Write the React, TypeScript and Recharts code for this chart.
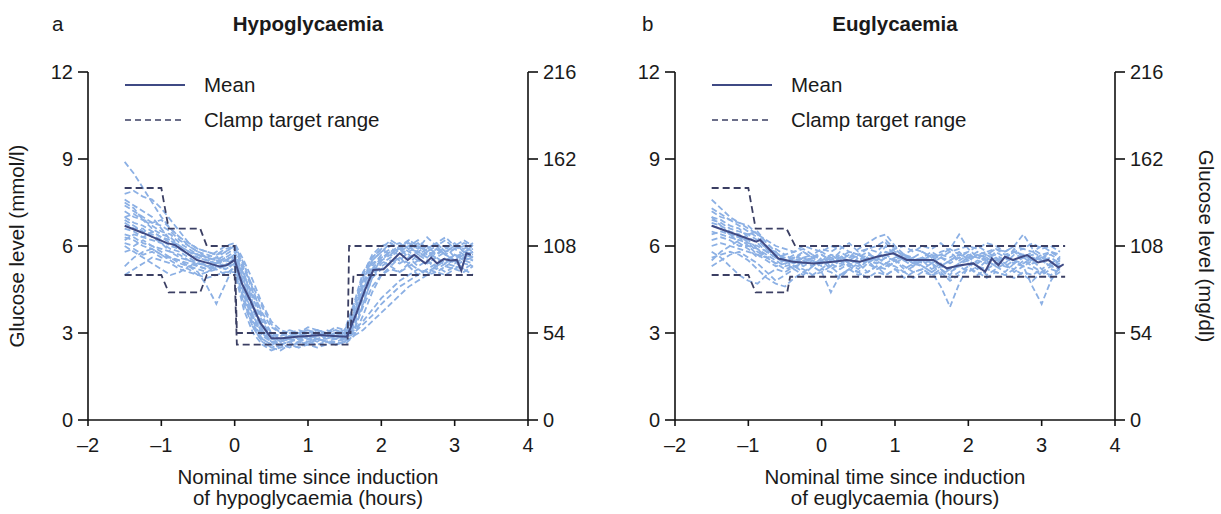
import React from "react";
import { LineChart, Line, XAxis, YAxis } from "recharts";

// nominal sampling times (hours) shared by the individual traces
const traceTimes = [
  -1.5, -1.375, -1.25, -1.125, -1, -0.875, -0.75, -0.625, -0.5, -0.375, -0.25, -0.125, 0,
  0.125, 0.25, 0.375, 0.5, 0.625, 0.75, 0.875, 1, 1.125, 1.25, 1.375, 1.5,
  1.625, 1.75, 1.875, 2, 2.125, 2.25, 2.375, 2.5, 2.625, 2.75, 2.875, 3, 3.125, 3.25,
];

// panel a: individual participants (mmol/l)
const hypoTraces: number[][] = [
  [8.9, 8.5, 8.0, 7.5, 7.0, 6.6, 6.3, 6.0, 5.8, 5.7, 5.6, 5.5, 5.6, 4.8, 3.9, 3.2, 2.9, 2.9, 3.0, 2.9, 3.0, 3.1, 2.9, 3.0, 2.9, 3.6, 4.6, 5.3, 5.7, 5.9, 5.8, 6.0, 5.7, 5.9, 6.1, 5.8, 5.9, 5.7, 5.8],
  [7.6, 7.4, 7.2, 7.0, 6.6, 6.2, 5.9, 5.7, 5.6, 5.5, 5.4, 5.6, 5.8, 5.0, 4.2, 3.4, 2.9, 2.7, 2.8, 2.9, 2.8, 2.9, 3.0, 2.8, 2.9, 3.2, 4.0, 4.9, 5.4, 5.6, 5.9, 5.7, 5.5, 5.8, 5.6, 5.4, 5.7, 5.5, 5.6],
  [6.9, 6.7, 6.5, 6.4, 6.2, 6.0, 5.9, 5.7, 5.5, 5.3, 5.2, 5.3, 5.5, 4.4, 3.6, 3.0, 2.7, 2.6, 2.7, 2.8, 2.7, 2.8, 2.9, 2.8, 2.8, 3.5, 4.8, 5.5, 5.8, 6.0, 6.1, 5.9, 5.8, 5.6, 5.9, 5.7, 5.5, 5.8, 5.9],
  [5.3, 5.6, 5.8, 5.9, 5.7, 5.5, 5.3, 5.2, 5.0, 5.1, 5.2, 5.4, 5.2, 4.0, 3.2, 2.7, 2.5, 2.4, 2.6, 2.7, 2.6, 2.8, 2.7, 2.7, 2.8, 3.3, 4.3, 5.0, 5.3, 5.5, 5.4, 5.6, 5.3, 5.5, 5.2, 5.4, 5.3, 5.5, 5.4],
  [6.4, 6.3, 6.1, 6.0, 5.8, 5.6, 5.4, 5.3, 5.1, 4.6, 4.0, 4.7, 5.4, 4.6, 3.8, 3.2, 2.9, 2.8, 2.9, 3.0, 3.1, 2.9, 3.0, 3.1, 3.0, 3.4, 4.4, 5.1, 5.5, 5.7, 5.5, 5.8, 6.0, 5.7, 5.6, 5.8, 6.0, 5.8, 5.6],
  [7.2, 7.0, 6.9, 6.6, 6.4, 6.3, 6.0, 5.8, 5.7, 5.6, 5.5, 5.7, 5.9, 5.2, 4.6, 3.9, 3.3, 3.0, 2.9, 3.0, 2.8, 2.9, 3.0, 2.9, 3.0, 3.1, 3.4, 3.8, 4.2, 4.5, 4.8, 5.0, 5.2, 5.1, 5.3, 5.5, 5.4, 5.6, 5.5],
  [7.8, 7.9, 7.7, 7.6, 7.3, 6.9, 6.5, 6.1, 5.9, 5.8, 5.7, 5.8, 6.0, 5.4, 4.5, 3.6, 3.0, 2.8, 2.9, 3.0, 3.1, 3.0, 2.9, 3.0, 3.1, 4.0, 5.1, 5.6, 5.9, 6.2, 6.0, 6.1, 5.9, 6.3, 6.0, 6.2, 5.9, 6.1, 6.0],
  [6.1, 6.0, 6.2, 6.0, 5.9, 5.8, 5.6, 5.5, 5.4, 5.4, 5.5, 5.3, 5.6, 4.3, 3.4, 2.8, 2.6, 2.5, 2.6, 2.5, 2.7, 2.6, 2.7, 2.6, 2.7, 3.0, 4.0, 4.9, 5.2, 5.4, 5.6, 5.3, 5.5, 5.4, 5.6, 5.3, 5.5, 5.2, 5.4],
  [6.6, 6.5, 6.3, 6.2, 6.1, 5.9, 5.8, 5.6, 5.4, 5.3, 5.4, 5.5, 5.7, 4.9, 4.0, 3.3, 2.9, 2.8, 2.8, 2.9, 3.0, 2.9, 3.1, 3.0, 2.9, 3.8, 5.0, 5.6, 5.9, 5.7, 6.0, 6.2, 5.8, 6.0, 5.7, 5.9, 6.1, 5.8, 6.0],
  [5.0, 5.2, 5.4, 5.6, 5.5, 5.4, 5.2, 5.1, 5.0, 4.9, 5.0, 5.1, 5.1, 3.8, 3.0, 2.6, 2.4, 2.5, 2.6, 2.5, 2.6, 2.5, 2.6, 2.7, 2.6, 2.9, 3.6, 4.4, 5.0, 5.2, 5.1, 5.3, 5.0, 5.2, 5.1, 5.0, 5.2, 5.1, 5.3],
  [7.0, 6.8, 6.7, 6.5, 6.3, 6.2, 6.0, 5.8, 5.7, 5.6, 5.8, 6.0, 6.1, 5.5, 4.8, 4.0, 3.4, 3.1, 3.0, 2.9, 3.0, 3.1, 3.0, 2.9, 3.0, 3.6, 4.4, 5.2, 5.6, 5.8, 5.7, 5.9, 6.1, 5.8, 5.7, 6.0, 5.6, 5.8, 5.7],
  [6.2, 6.4, 6.3, 6.5, 6.3, 6.1, 5.9, 5.8, 5.6, 5.5, 5.4, 5.6, 5.6, 4.7, 3.8, 3.1, 2.7, 2.6, 2.7, 2.8, 2.9, 2.8, 2.8, 2.9, 2.8, 3.0, 3.3, 3.6, 4.0, 4.3, 4.6, 4.8, 5.0, 5.2, 5.4, 5.5, 5.7, 5.6, 5.8],
  [7.4, 7.2, 7.0, 6.8, 6.7, 6.5, 6.2, 6.0, 5.8, 5.6, 5.5, 5.5, 5.7, 5.0, 4.3, 3.5, 3.0, 2.9, 3.0, 3.1, 3.0, 3.1, 3.0, 3.1, 3.0, 3.9, 5.0, 5.7, 6.0, 6.1, 5.9, 6.0, 6.2, 5.9, 6.1, 5.8, 6.0, 6.2, 6.0],
  [5.8, 5.9, 5.7, 5.8, 5.6, 5.6, 5.5, 5.4, 5.3, 5.2, 5.3, 5.4, 5.3, 4.2, 3.3, 2.8, 2.6, 2.7, 2.8, 2.7, 2.8, 2.7, 2.9, 2.8, 2.7, 3.3, 4.5, 5.2, 5.5, 5.3, 5.6, 5.4, 5.7, 5.5, 5.3, 5.6, 5.4, 5.6, 5.5],
  [6.8, 6.6, 6.6, 6.3, 6.1, 5.8, 5.7, 5.5, 5.3, 5.2, 5.4, 5.5, 5.4, 4.5, 3.5, 2.9, 2.7, 2.7, 2.8, 2.7, 2.9, 2.8, 2.7, 2.8, 2.9, 3.5, 4.7, 5.4, 5.6, 5.8, 5.9, 5.6, 5.8, 5.6, 5.9, 5.7, 5.5, 5.7, 5.6],
  [7.5, 7.3, 6.9, 6.7, 6.5, 6.4, 6.1, 5.9, 5.7, 5.5, 5.6, 5.8, 6.0, 5.1, 4.0, 3.1, 2.8, 2.7, 2.9, 2.8, 2.9, 3.0, 2.8, 2.9, 2.8, 3.3, 4.2, 5.0, 5.5, 5.8, 6.0, 5.8, 5.6, 5.8, 6.0, 5.7, 5.9, 6.0, 5.8],
  [6.0, 5.8, 5.6, 5.4, 5.2, 5.0, 5.1, 5.3, 5.4, 5.3, 5.2, 5.0, 5.3, 4.1, 3.2, 2.7, 2.5, 2.6, 2.5, 2.7, 2.6, 2.8, 2.7, 2.6, 2.7, 3.1, 3.9, 4.6, 5.0, 5.3, 5.1, 5.4, 5.2, 5.0, 5.3, 5.1, 5.3, 5.2, 5.0],
  [7.0, 7.1, 6.9, 6.8, 6.9, 6.6, 6.3, 6.1, 5.9, 5.8, 5.7, 5.9, 6.0, 5.3, 4.4, 3.7, 3.2, 3.0, 3.1, 3.0, 3.2, 3.1, 3.0, 3.2, 3.1, 3.7, 4.9, 5.5, 5.8, 6.1, 5.9, 6.2, 6.0, 5.8, 6.1, 6.3, 6.0, 5.9, 6.1],
  [6.3, 6.2, 6.0, 5.9, 5.7, 5.6, 5.5, 5.3, 5.2, 5.1, 5.3, 5.2, 5.4, 4.5, 3.6, 3.0, 2.7, 2.6, 2.7, 2.6, 2.7, 2.8, 2.7, 2.6, 2.7, 2.9, 3.1, 3.4, 3.7, 4.0, 4.3, 4.6, 4.8, 5.0, 5.1, 5.3, 5.2, 5.4, 5.3],
];

// panel b: individual participants (mmol/l)
const eugTraces: number[][] = [
  [7.6, 7.3, 7.0, 6.8, 6.7, 6.4, 6.0, 5.7, 5.6, 5.5, 5.8, 5.6, 5.4, 5.7, 5.5, 5.3, 5.6, 5.8, 5.5, 5.7, 5.9, 5.6, 5.4, 5.5, 5.7, 5.3, 5.5, 5.6, 5.8, 5.4, 5.6, 5.7, 5.5, 5.9, 5.6, 5.4, 5.5, 5.3, 5.5],
  [7.2, 7.0, 6.9, 6.7, 6.5, 6.3, 5.9, 5.8, 5.5, 5.3, 5.4, 5.6, 5.2, 5.5, 5.7, 5.4, 5.2, 5.5, 5.6, 6.0, 5.7, 5.5, 5.3, 5.6, 5.4, 5.2, 5.0, 5.4, 5.6, 5.7, 5.5, 5.3, 5.6, 5.8, 5.6, 5.5, 5.7, 5.4, 5.6],
  [5.3, 5.5, 5.7, 5.8, 5.6, 5.4, 5.1, 4.8, 5.0, 5.2, 5.0, 5.3, 5.1, 4.4, 5.0, 5.2, 5.4, 5.1, 5.3, 5.2, 5.5, 5.3, 5.1, 5.2, 5.4, 5.0, 5.2, 5.3, 5.1, 5.3, 5.0, 5.2, 5.4, 5.1, 5.3, 5.2, 5.0, 5.2, 5.1],
  [6.9, 6.8, 6.6, 6.5, 6.4, 6.2, 5.9, 5.6, 5.5, 5.6, 5.4, 5.6, 5.7, 5.5, 5.8, 5.6, 5.9, 6.1, 6.3, 6.4, 6.0, 5.7, 5.5, 5.6, 5.4, 5.6, 5.8, 5.5, 5.7, 5.6, 5.5, 5.8, 5.6, 5.4, 5.6, 5.7, 5.5, 5.6, 5.4],
  [6.5, 6.4, 6.3, 6.2, 6.1, 6.0, 5.8, 5.6, 5.4, 5.5, 5.3, 5.5, 5.4, 5.6, 5.3, 5.5, 5.4, 5.6, 5.5, 5.3, 5.4, 5.6, 5.5, 5.3, 5.1, 4.6, 3.9, 4.7, 5.3, 5.5, 5.4, 5.6, 5.3, 5.5, 5.4, 5.6, 5.5, 5.3, 5.4],
  [7.0, 6.9, 6.7, 6.6, 6.3, 6.1, 5.8, 5.6, 5.7, 5.5, 5.6, 5.4, 5.5, 5.7, 5.6, 5.4, 5.5, 5.7, 5.6, 5.8, 5.7, 5.5, 5.6, 5.4, 5.5, 5.7, 5.6, 5.8, 5.5, 5.7, 5.6, 5.4, 5.6, 5.5, 5.3, 4.6, 4.0, 4.8, 5.3],
  [6.2, 6.3, 6.2, 6.0, 6.0, 5.9, 5.7, 5.5, 5.3, 5.4, 5.6, 5.5, 5.3, 5.5, 5.4, 5.6, 5.7, 5.5, 5.4, 5.6, 5.5, 5.7, 5.6, 5.8, 5.6, 5.7, 5.9, 6.4, 5.9, 5.6, 5.7, 5.5, 5.6, 5.8, 5.7, 5.5, 5.6, 5.8, 5.6],
  [6.7, 6.6, 6.4, 6.3, 6.2, 5.9, 5.6, 5.4, 5.5, 5.7, 5.5, 5.6, 5.8, 5.6, 5.5, 5.7, 5.6, 5.4, 5.6, 5.7, 5.5, 5.6, 5.4, 5.5, 5.7, 5.6, 5.5, 5.7, 5.6, 5.8, 5.7, 5.9, 5.8, 6.0, 6.4, 5.9, 5.7, 5.8, 5.6],
  [5.6, 5.7, 5.8, 5.7, 5.5, 5.2, 4.9, 4.7, 4.6, 4.9, 5.1, 5.0, 5.2, 5.1, 4.9, 5.2, 5.0, 5.1, 5.3, 5.0, 5.2, 5.1, 4.9, 5.1, 5.0, 5.2, 4.9, 5.1, 5.3, 5.0, 5.2, 5.1, 5.0, 4.9, 5.1, 5.0, 5.2, 4.9, 5.1],
  [7.3, 7.1, 6.9, 6.8, 6.6, 6.4, 6.2, 6.0, 5.9, 5.8, 6.0, 5.9, 5.8, 6.0, 5.9, 6.1, 5.8, 5.9, 6.0, 6.2, 5.9, 6.0, 5.8, 6.0, 5.9, 6.1, 5.8, 5.9, 6.0, 5.9, 6.1, 6.0, 5.8, 6.0, 5.9, 6.1, 5.9, 6.0, 5.8],
  [6.0, 6.1, 6.0, 5.9, 5.8, 5.7, 5.6, 5.4, 5.2, 5.3, 5.1, 5.3, 5.5, 5.2, 5.4, 5.3, 5.1, 5.4, 5.2, 5.3, 5.5, 5.2, 5.4, 5.3, 5.1, 5.3, 5.2, 5.4, 5.5, 5.3, 5.2, 5.4, 5.3, 5.2, 5.5, 5.3, 5.1, 5.3, 5.2],
  [5.5, 5.8, 6.0, 6.2, 6.4, 6.5, 6.1, 5.8, 5.5, 5.6, 5.8, 5.6, 5.7, 5.5, 5.6, 5.8, 5.7, 5.5, 5.6, 5.4, 5.6, 5.7, 5.5, 5.6, 5.8, 5.6, 5.4, 5.6, 5.5, 5.7, 5.8, 5.6, 5.4, 5.7, 5.6, 5.8, 5.6, 5.7, 5.5],
  [6.8, 6.7, 6.5, 6.4, 6.1, 5.8, 5.6, 5.7, 5.5, 5.4, 5.6, 5.7, 5.5, 5.3, 5.6, 5.5, 5.7, 5.6, 5.4, 5.6, 5.5, 5.7, 5.4, 5.6, 5.5, 5.3, 5.5, 5.7, 5.6, 5.4, 5.7, 5.5, 5.6, 5.4, 5.7, 5.5, 5.6, 5.4, 5.6],
  [6.4, 6.5, 6.4, 6.3, 6.0, 5.7, 5.5, 5.3, 5.4, 5.2, 5.5, 5.3, 5.6, 5.4, 5.2, 5.4, 5.3, 5.5, 5.2, 5.4, 5.3, 5.1, 5.3, 5.5, 5.2, 5.4, 5.1, 5.3, 5.4, 5.2, 5.5, 5.3, 5.1, 5.4, 5.3, 5.5, 5.2, 5.4, 5.3],
  [7.0, 6.7, 6.4, 6.1, 5.9, 5.6, 5.8, 5.9, 5.7, 5.8, 5.9, 5.7, 5.9, 5.8, 6.0, 5.8, 5.7, 5.9, 5.8, 6.1, 5.8, 5.7, 5.9, 5.8, 5.6, 5.8, 5.9, 5.7, 5.8, 6.0, 5.8, 5.9, 5.7, 5.8, 5.9, 5.8, 6.0, 5.8, 5.7],
  [5.8, 5.6, 5.3, 5.0, 4.8, 4.7, 5.0, 5.2, 5.1, 5.3, 5.2, 5.0, 5.1, 5.3, 5.0, 5.2, 5.1, 4.9, 5.1, 5.0, 5.2, 4.9, 5.1, 5.2, 5.0, 5.1, 4.8, 5.0, 5.2, 5.1, 4.9, 5.1, 5.0, 5.2, 5.0, 4.8, 5.1, 5.0, 5.2],
];

// mean curves
const hypoMeanTimes = [-1.5, -1.25, -1.02, -0.92, -0.81, -0.65, -0.52, -0.35, -0.2, -0.1, 0, 0.1, 0.21, 0.35, 0.5, 0.65, 0.84, 1.0, 1.16, 1.35, 1.53, 1.66, 1.78, 1.89, 2.03, 2.15, 2.25, 2.36, 2.45, 2.52, 2.6, 2.68, 2.76, 2.85, 2.95, 3.03, 3.09, 3.16, 3.22];
const hypoMean = [6.7, 6.45, 6.2, 6.1, 6.03, 5.75, 5.52, 5.4, 5.29, 5.35, 5.52, 4.7, 4.14, 3.35, 2.82, 2.82, 2.87, 2.9, 2.93, 2.9, 2.87, 3.68, 4.5, 5.17, 5.2, 5.5, 5.75, 5.52, 5.7, 5.55, 5.4, 5.6, 5.4, 5.55, 5.5, 5.52, 5.15, 5.75, 5.7];
const eugMeanTimes = [-1.5, -0.89, -0.84, -0.59, -0.39, -0.11, 0.16, 0.34, 0.52, 0.75, 0.98, 1.16, 1.52, 1.71, 1.89, 2.07, 2.23, 2.32, 2.41, 2.5, 2.61, 2.8, 2.95, 3.09, 3.23, 3.3];
const eugMean = [6.7, 6.15, 6.21, 5.57, 5.46, 5.4, 5.46, 5.52, 5.46, 5.63, 5.75, 5.52, 5.52, 5.23, 5.34, 5.4, 5.11, 5.57, 5.34, 5.63, 5.52, 5.69, 5.43, 5.52, 5.26, 5.37];

// clamp target range boundaries
const hypoClampUpperT = [-1.5, -1.0, -0.9, -0.47, -0.38, 0, 0.03, 1.58, 1.62, 3.25];
const hypoClampUpper = [8, 8, 6.6, 6.6, 6.0, 6.0, 3.0, 3.0, 5.0, 5.0];
const hypoClampLowerT = [-1.5, -1.0, -0.9, -0.47, -0.38, 0, 0.03, 1.54, 1.56, 3.25];
const hypoClampLower = [5, 5, 4.4, 4.4, 5.0, 5.0, 2.6, 2.6, 6.0, 6.0];
const eugClampUpperT = [-1.5, -1.0, -0.9, -0.48, -0.36, 3.32];
const eugClampUpper = [8, 8, 6.6, 6.6, 6.0, 6.0];
const eugClampLowerT = [-1.5, -1.0, -0.9, -0.47, -0.43, 3.32];
const eugClampLower = [5, 5, 4.4, 4.4, 4.94, 4.94];

const xTicks = [-2, -1, 0, 1, 2, 3, 4];
const mmolTicks = [0, 3, 6, 9, 12];
const mgTicks = [0, 54, 108, 162, 216];
const MG_PER_MMOL = 18;

const FONT = '"Liberation Sans", Arial, sans-serif';
const TEXT = "#1a1a1a";
const TRACE = "#8cb0e4";
const MEAN = "#3f4a84";
const CLAMP = "#3b3f63";

const toPoints = (ts: number[], vs: number[]) => ts.map((t, i) => ({ t, v: vs[i] }));
const fmtX = (v: number) => (v < 0 ? `\u2013${Math.abs(v)}` : `${v}`);

type PanelProps = {
  left: number;
  traces: number[][];
  meanT: number[];
  meanV: number[];
  clamps: { t: number[]; v: number[] }[];
};

function Panel({ left, traces, meanT, meanV, clamps }: PanelProps) {
  const tick = { fontSize: 20, fill: TEXT, fontFamily: FONT };
  const axisStyle = { stroke: "#111", strokeWidth: 1.6 };
  return (
    <div style={{ position: "absolute", left, top: 0 }}>
      <LineChart width={610} height={514} margin={{ top: 72, right: 37, bottom: 64, left: 48 }}>
        <XAxis
          type="number"
          dataKey="t"
          domain={[-2, 4]}
          ticks={xTicks}
          tickFormatter={fmtX}
          allowDataOverflow
          height={30}
          tickSize={6}
          tickMargin={12}
          tick={tick}
          axisLine={axisStyle}
          tickLine={axisStyle}
        />
        <YAxis
          yAxisId="mmol"
          type="number"
          domain={[0, 12]}
          ticks={mmolTicks}
          width={40}
          tickSize={10}
          tickMargin={5}
          tick={tick}
          axisLine={axisStyle}
          tickLine={axisStyle}
        />
        <YAxis
          yAxisId="mg"
          orientation="right"
          type="number"
          domain={[0, 216]}
          ticks={mgTicks}
          width={45}
          tickSize={10}
          tickMargin={5}
          tick={tick}
          axisLine={axisStyle}
          tickLine={axisStyle}
        />
        {traces.map((vs, i) => (
          <Line
            key={`tr${i}`}
            yAxisId="mmol"
            data={toPoints(traceTimes, vs)}
            dataKey="v"
            stroke={TRACE}
            strokeWidth={1.8}
            strokeDasharray="6 3"
            dot={false}
            isAnimationActive={false}
          />
        ))}
        {clamps.map((c, i) => (
          <Line
            key={`cl${i}`}
            yAxisId="mmol"
            data={toPoints(c.t, c.v)}
            dataKey="v"
            stroke={CLAMP}
            strokeWidth={1.8}
            strokeDasharray="7 4"
            dot={false}
            isAnimationActive={false}
          />
        ))}
        <Line
          yAxisId="mmol"
          data={toPoints(meanT, meanV)}
          dataKey="v"
          stroke={MEAN}
          strokeWidth={2}
          dot={false}
          isAnimationActive={false}
        />
        {/* same mean expressed in mg/dl, drawn invisibly so the right axis is laid out */}
        <Line
          yAxisId="mg"
          data={toPoints(meanT, meanV.map((v) => v * MG_PER_MMOL))}
          dataKey="v"
          stroke="transparent"
          dot={false}
          activeDot={false}
          isAnimationActive={false}
        />
      </LineChart>
    </div>
  );
}

function Overlay() {
  const base = { fontFamily: FONT, fill: TEXT, fontSize: 20.5 };
  const legend = (x0: number) => (
    <g>
      <line x1={x0 + 37} x2={x0 + 97} y1={85} y2={85} stroke={MEAN} strokeWidth={1.8} />
      <text x={x0 + 116} y={92} {...base}>Mean</text>
      <line x1={x0 + 37} x2={x0 + 97} y1={120} y2={120} stroke={CLAMP} strokeWidth={1.6} strokeDasharray="6 4" />
      <text x={x0 + 116} y={127} {...base}>Clamp target range</text>
    </g>
  );
  return (
    <svg width={1221} height={514} style={{ position: "absolute", left: 0, top: 0, pointerEvents: "none" }}>
      <text x={52} y={31} {...base}>a</text>
      <text x={308} y={31} {...base} fontWeight="bold" textAnchor="middle">Hypoglycaemia</text>
      <text x={642} y={31} {...base}>b</text>
      <text x={895} y={31} {...base} fontWeight="bold" textAnchor="middle">Euglycaemia</text>
      <text x={24} y={246} {...base} textAnchor="middle" transform="rotate(-90 24 246)">Glucose level (mmol/l)</text>
      <text x={1199} y={246} {...base} textAnchor="middle" transform="rotate(90 1199 246)">Glucose level (mg/dl)</text>
      <text x={308} y={484} {...base} textAnchor="middle">Nominal time since induction</text>
      <text x={308} y={505} {...base} textAnchor="middle">of hypoglycaemia (hours)</text>
      <text x={895} y={484} {...base} textAnchor="middle">Nominal time since induction</text>
      <text x={895} y={505} {...base} textAnchor="middle">of euglycaemia (hours)</text>
      {legend(88)}
      {legend(675)}
    </svg>
  );
}

export default function App() {
  return (
    <div style={{ position: "absolute", left: 0, top: 0, width: 1221, height: 514, background: "#fff", fontFamily: FONT }}>
      <Panel
        left={0}
        traces={hypoTraces}
        meanT={hypoMeanTimes}
        meanV={hypoMean}
        clamps={[
          { t: hypoClampUpperT, v: hypoClampUpper },
          { t: hypoClampLowerT, v: hypoClampLower },
        ]}
      />
      <Panel
        left={587}
        traces={eugTraces}
        meanT={eugMeanTimes}
        meanV={eugMean}
        clamps={[
          { t: eugClampUpperT, v: eugClampUpper },
          { t: eugClampLowerT, v: eugClampLower },
        ]}
      />
      <Overlay />
    </div>
  );
}
